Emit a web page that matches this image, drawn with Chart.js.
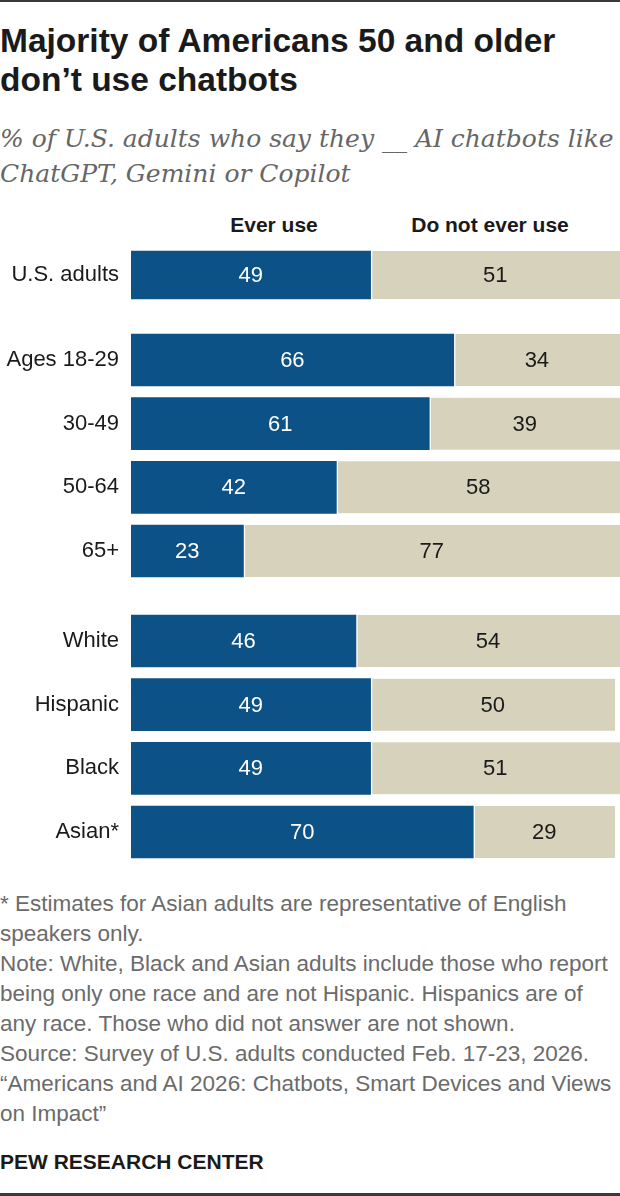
<!DOCTYPE html>
<html>
<head>
<meta charset="utf-8">
<script src="https://cdn.jsdelivr.net/npm/chart.js@4.4.1/dist/chart.umd.min.js"></script>
<style>
  html, body { margin: 0; padding: 0; background: #fff; }
  body { width: 620px; height: 1196px; position: relative; overflow: hidden; font-family: "Liberation Sans", Arial, sans-serif; }
  .abs { position: absolute; white-space: nowrap; }
  #topline { left: 0; top: 0; width: 620px; height: 2px; background: #3a3a3a; }
  #botline { left: 0; top: 1193px; width: 620px; height: 3px; background: #3a3a3a; }
  #title { left: 0; top: 21px; font-size: 33.5px; line-height: 39px; font-weight: bold; color: #1a1a1a; }
  #subtitle { left: 0; top: 121px; font-family: "DejaVu Serif", serif; font-style: italic; font-size: 25px; line-height: 35px; color: #666; }
  .hdr { top: 214px; width: 220px; text-align: center; font-size: 21px; line-height: 21px; font-weight: bold; color: #1a1a1a; }
  #notes { left: 0; top: 889px; font-size: 22.5px; line-height: 30px; color: #6b6b6b; }
  #pew { left: 0; top: 1151px; font-size: 21px; line-height: 21px; font-weight: bold; color: #1a1a1a; }
  .cw { position: absolute; left: 0; width: 620px; }
</style>
</head>
<body>
<div id="topline" class="abs"></div>
<div id="title" class="abs">Majority of Americans 50 and older<br>don’t use chatbots</div>
<div id="subtitle" class="abs">% of U.S. adults who say they __ AI chatbots like<br>ChatGPT, Gemini or Copilot</div>
<div class="abs hdr" style="left:164px;">Ever use</div>
<div class="abs hdr" style="left:380px;">Do not ever use</div>

<div class="cw" style="top:245px;height:60px;"><canvas id="c1"></canvas></div>
<div class="cw" style="top:328px;height:255px;"><canvas id="c2"></canvas></div>
<div class="cw" style="top:609px;height:255px;"><canvas id="c3"></canvas></div>

<div id="notes" class="abs">* Estimates for Asian adults are representative of English<br>speakers only.<br>Note: White, Black and Asian adults include those who report<br>being only one race and are not Hispanic. Hispanics are of<br>any race. Those who did not answer are not shown.<br>Source: Survey of U.S. adults conducted Feb. 17-23, 2026.<br>“Americans and AI 2026: Chatbots, Smart Devices and Views<br>on Impact”</div>
<div id="pew" class="abs">PEW RESEARCH CENTER</div>
<div id="botline" class="abs"></div>

<script>
// ---- Data ----
const seriesNames = ["Ever use", "Do not ever use"];

const totalLabels = ["U.S. adults"];
const totalEver = [49];
const totalNever = [51];

const ageLabels = ["Ages 18-29", "30-49", "50-64", "65+"];
const ageEver = [66, 61, 42, 23];
const ageNever = [34, 39, 58, 77];

const raceLabels = ["White", "Hispanic", "Black", "Asian*"];
const raceEver = [46, 49, 49, 70];
const raceNever = [54, 50, 51, 29];

// ---- Styles ----
const BLUE = "#0d5286";
const BEIGE = "#d6d2bc";
const FONT = "'Liberation Sans', Arial, sans-serif";

const valueLabels = {
  id: "valueLabels",
  afterDatasetsDraw(chart) {
    const ctx = chart.ctx;
    ctx.save();
    ctx.font = "22px " + FONT;
    ctx.textAlign = "center";
    ctx.textBaseline = "middle";
    chart.data.datasets.forEach((ds, di) => {
      const meta = chart.getDatasetMeta(di);
      meta.data.forEach((el, i) => {
        const v = ds.data[i];
        const x = (el.x + el.base) / 2;
        ctx.fillStyle = di === 0 ? "#ffffff" : "#1a1a1a";
        ctx.fillText(String(v), x, el.y + 1);
      });
    });
    ctx.restore();
  }
};

function makeChart(id, labels, ever, never, thickness) {
  new Chart(document.getElementById(id), {
    type: "bar",
    data: {
      labels: labels,
      datasets: [
        { label: seriesNames[0], data: ever, backgroundColor: BLUE, borderWidth: 0, barThickness: thickness },
        { label: seriesNames[1], data: never, backgroundColor: BEIGE, borderColor: "#ffffff",
          borderWidth: { left: 2, right: 0, top: 0, bottom: 0 }, borderSkipped: false, barThickness: thickness }
      ]
    },
    options: {
      indexAxis: "y",
      responsive: true,
      maintainAspectRatio: false,
      animation: false,
      layout: { padding: 0 },
      plugins: { legend: { display: false }, tooltip: { enabled: false } },
      scales: {
        x: { stacked: true, min: 0, max: 100, display: false },
        y: {
          stacked: true,
          grid: { display: false, drawTicks: true, tickLength: 12 },
          border: { display: false },
          ticks: { color: "#1a1a1a", font: { family: FONT, size: 22, lineHeight: 0.02 }, padding: 0 },
          afterFit(scale) { scale.width = 131; }
        }
      }
    },
    plugins: [valueLabels]
  });
}

makeChart("c1", totalLabels, totalEver, totalNever, 48);
makeChart("c2", ageLabels, ageEver, ageNever, 52);
makeChart("c3", raceLabels, raceEver, raceNever, 52);
</script>
</body>
</html>
